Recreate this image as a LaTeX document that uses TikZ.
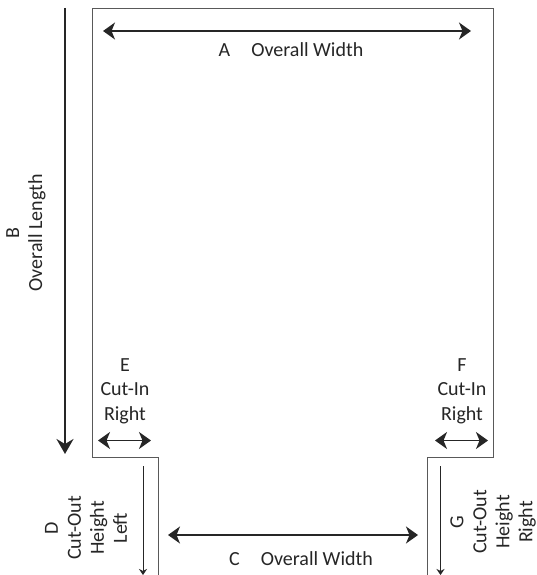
\documentclass[tikz,border=0pt]{standalone}
\usepackage{fontspec}
\setmainfont{Carlito}
\usetikzlibrary{arrows.meta}
\tikzset{
  outline/.style={draw=black!65,line width=1pt},
  big/.style={draw=black!85,line width=1.7pt,{Stealth[length=12pt,width=17pt,inset=3.5pt]}-{Stealth[length=12pt,width=17pt,inset=3.5pt]}},
  bigdown/.style={draw=black!85,line width=2.2pt,-{Stealth[length=15pt,width=17pt,inset=5pt]}},
  thindown/.style={draw=black!85,line width=1pt,-{Stealth[length=6pt,width=8pt,inset=2pt]}},
  lab/.style={font=\fontsize{20}{24.5}\selectfont,text=black!85,align=center,inner sep=0pt},
  vlab/.style={lab,rotate=90,font=\fontsize{20}{23}\selectfont}
}
\begin{document}
\begin{tikzpicture}[x=1pt,y=-1pt]
\useasboundingbox (0,0) rectangle (536,575);
\fill[white] (0,0) rectangle (536,575);
\draw[outline] (158.5,575) -- (158.5,457) -- (92.5,457) -- (92.5,9) -- (493.5,9) -- (493.5,457) -- (427.5,457) -- (427.5,575);
\coordinate (a1) at (103,31); \coordinate (a2) at (471,31);
\coordinate (b1) at (65,8); \coordinate (b2) at (65,454);
\coordinate (c1) at (168,535); \coordinate (c2) at (418,535);
\coordinate (d1) at (143,466); \coordinate (d2) at (143,575);
\coordinate (g1) at (440.5,466); \coordinate (g2) at (440.5,575);
\coordinate (e1) at (98,440.5); \coordinate (e2) at (151,440.5);
\coordinate (f1) at (435,440.5); \coordinate (f2) at (488,440.5);
\draw[big] (a1) -- (a2);
\draw[bigdown] (b1) -- (b2);
\draw[big] (c1) -- (c2);
\draw[thindown] (d1) -- (d2);
\draw[thindown] (g1) -- (g2);
\draw[big] (e1) -- (e2);
\draw[big] (f1) -- (f2);
\node[lab] (la) at (291,49.5) {A\hspace{1.05em}Overall Width};
\node[lab] (lc) at (301,559) {C\hspace{1.05em}Overall Width};
\node[vlab] (lb) at (26,233) {B\\Overall Length};
\node[lab] (le) at (125,391) {E\\Cut-In\\Right};
\node[lab] (lf) at (462,391) {F\\Cut-In\\Right};
\node[vlab] (ld) at (86,528) {D\\Cut-Out\\Height\\Left};
\node[vlab] (lg) at (493,522) {G\\Cut-Out\\Height\\Right};
\end{tikzpicture}
\end{document}
